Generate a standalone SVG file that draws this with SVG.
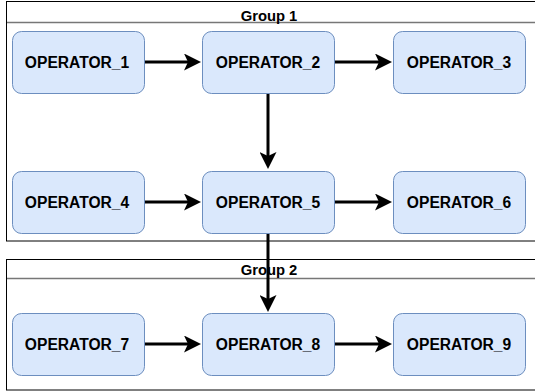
<svg xmlns="http://www.w3.org/2000/svg" width="535" height="392" viewBox="0 0 535 392">
  <style>
    .grp { fill: #ffffff; stroke: #000000; stroke-width: 1; }
    .sep { stroke: #777777; stroke-width: 1.5; fill: none; }
    .gtitle { font-family: "Liberation Sans", Arial, sans-serif; font-weight: bold; font-size: 14.8px; fill: #000; text-anchor: middle; }
    .node rect { fill: #dae8fc; stroke: #6c8ebf; stroke-width: 1; }
    .node text { font-family: "Liberation Sans", Arial, sans-serif; font-weight: bold; font-size: 15.6px; fill: #000; text-anchor: middle; }
    .edge { stroke: #000000; stroke-width: 3; fill: none; marker-end: url(#arrow); }
  </style>
  <defs>
    <marker id="arrow" markerUnits="userSpaceOnUse" markerWidth="17" markerHeight="17" viewBox="0 0 17 17" refX="4" refY="8.5" orient="auto">
      <path d="M0,0 L17,8.5 L0,17 L4,8.5 Z" fill="#000000"/>
    </marker>
  </defs>
  <rect width="535" height="392" fill="#ffffff"/>

  <g id="group1">
    <rect class="grp" x="6.5" y="1.5" width="540" height="239.5"/>
    <line class="sep" x1="7" y1="22.5" x2="535" y2="22.5"/>
    <text class="gtitle" x="269" y="21">Group 1</text>
  </g>
  <g id="group2">
    <rect class="grp" x="6.5" y="259.5" width="540" height="130.5"/>
    <line class="sep" x1="7" y1="278.5" x2="535" y2="278.5"/>
    <text class="gtitle" x="269" y="275">Group 2</text>
  </g>

  <g id="connectors">
    <line class="edge" x1="144" y1="62" x2="188" y2="62"/>
    <line class="edge" x1="334" y1="62" x2="379" y2="62"/>
    <line class="edge" x1="268" y1="93" x2="268" y2="156"/>
    <line class="edge" x1="144" y1="202" x2="188" y2="202"/>
    <line class="edge" x1="334" y1="202" x2="379" y2="202"/>
    <line class="edge" x1="268" y1="233" x2="268" y2="299"/>
    <line class="edge" x1="144" y1="344" x2="188" y2="344"/>
    <line class="edge" x1="334" y1="344" x2="379" y2="344"/>
  </g>

  <g id="op1" class="node"><rect x="12.5" y="31.5" width="132" height="62" rx="9"/><text x="77" y="68">OPERATOR_1</text></g>
  <g id="op2" class="node"><rect x="202.5" y="31.5" width="132" height="62" rx="9"/><text x="268" y="68">OPERATOR_2</text></g>
  <g id="op3" class="node"><rect x="393.5" y="31.5" width="132" height="62" rx="9"/><text x="459" y="68">OPERATOR_3</text></g>
  <g id="op4" class="node"><rect x="12.5" y="171.5" width="132" height="62" rx="9"/><text x="77" y="208">OPERATOR_4</text></g>
  <g id="op5" class="node"><rect x="202.5" y="171.5" width="132" height="62" rx="9"/><text x="268" y="208">OPERATOR_5</text></g>
  <g id="op6" class="node"><rect x="393.5" y="171.5" width="132" height="62" rx="9"/><text x="459" y="208">OPERATOR_6</text></g>
  <g id="op7" class="node"><rect x="12.5" y="313.5" width="132" height="62" rx="9"/><text x="77" y="350">OPERATOR_7</text></g>
  <g id="op8" class="node"><rect x="202.5" y="313.5" width="132" height="62" rx="9"/><text x="268" y="350">OPERATOR_8</text></g>
  <g id="op9" class="node"><rect x="393.5" y="313.5" width="132" height="62" rx="9"/><text x="459" y="350">OPERATOR_9</text></g>
</svg>
